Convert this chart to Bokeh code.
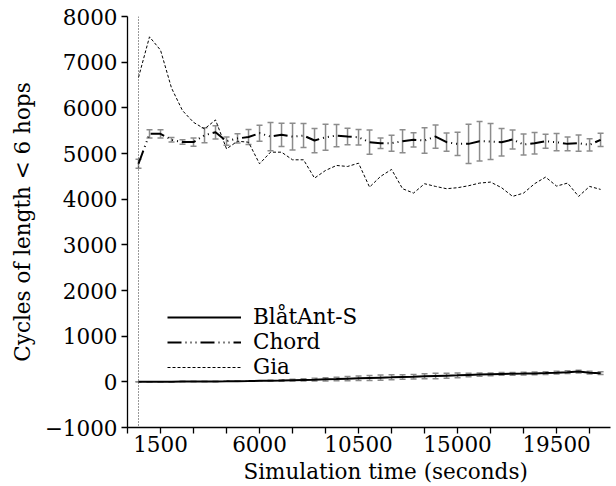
from bokeh.plotting import figure
from bokeh.models import (ColumnDataSource, Whisker, TeeHead, Span, FixedTicker,
                          Legend, LegendItem, Title)
from bokeh.embed import file_html
from bokeh.resources import INLINE

# ---- data -------------------------------------------------------------
time_s = [500, 1000, 1500, 2000, 2500, 3000, 3500, 4000, 4500, 5000, 5500,
          6000, 6500, 7000, 7500, 8000, 8500, 9000, 9500, 10000, 10500,
          11000, 11500, 12000, 12500, 13000, 13500, 14000, 14500, 15000,
          15500, 16000, 16500, 17000, 17500, 18000, 18500, 19000, 19500,
          20000, 20500, 21000, 21500]

blatant = [0, 0, 2, 3, 5, 6, 8, 10, 12, 15, 18, 22, 26, 30, 36, 42, 48, 55,
           62, 70, 78, 86, 92, 98, 105, 112, 120, 128, 135, 142, 150, 158,
           165, 172, 176, 180, 185, 192, 200, 212, 225, 200, 190]
blatant_err = [0, 0, 0, 0, 0, 0, 0, 0, 0, 0, 0, 0, 10, 15, 20, 25, 30, 35,
               40, 45, 50, 55, 55, 55, 50, 50, 55, 60, 55, 50, 40, 35, 30,
               30, 30, 30, 30, 30, 30, 30, 30, 30, 30]

chord = [4775, 5430, 5430, 5300, 5250, 5250, 5400, 5465, 5270, 5330, 5360,
         5445, 5370, 5410, 5370, 5393, 5284, 5356, 5393, 5371, 5356, 5247,
         5225, 5225, 5270, 5300, 5284, 5371, 5247, 5211, 5211, 5270, 5262,
         5247, 5306, 5197, 5225, 5270, 5247, 5211, 5225, 5190, 5300]
chord_err = [100, 90, 90, 50, 50, 90, 165, 145, 90, 100, 165, 175, 310, 255,
             295, 262, 266, 287, 244, 182, 171, 266, 113, 175, 251, 156, 280,
             255, 200, 255, 429, 433, 393, 302, 207, 229, 237, 153, 189, 153,
             178, 135, 146]

gia = [6666, 7555, 7264, 6434, 5939, 5683, 5539, 5735, 5102, 5269, 5247,
       4775, 5029, 5029, 4862, 4862, 4461, 4629, 4738, 4716, 4788, 4264,
       4498, 4651, 4229, 4133, 4338, 4279, 4229, 4251, 4294, 4352, 4374,
       4251, 4061, 4133, 4338, 4483, 4286, 4352, 4061, 4279, 4214]

x_ticks = [0, 1500, 3000, 4500, 6000, 7500, 9000, 10500, 12000, 13500,
           15000, 16500, 18000, 19500, 21000]
x_labeled = [1500, 6000, 10500, 15000, 19500]
y_ticks = [-1000, 0, 1000, 2000, 3000, 4000, 5000, 6000, 7000, 8000]

series_names = ["BlåtAnt-S", "Chord", "Gia"]
x_title = "Simulation time (seconds)"
y_title = "Cycles of length < 6 hops"

# ---- figure -----------------------------------------------------------
FONT = "DejaVu Serif"
FS = "21.5px"

p = figure(width=616, height=486, output_backend="svg", toolbar_location=None,
           x_range=(0, 21950), y_range=(-1000, 8000),
           min_border_left=127, min_border_right=6, min_border_top=16,
           min_border_bottom=10)
p.outline_line_color = None
p.grid.visible = False
p.background_fill_color = "white"
p.border_fill_color = "white"

src = ColumnDataSource(dict(
    t=time_s,
    b=blatant, b_lo=[v - e for v, e in zip(blatant, blatant_err)],
    b_hi=[v + e for v, e in zip(blatant, blatant_err)],
    c=chord, c_lo=[v - e for v, e in zip(chord, chord_err)],
    c_hi=[v + e for v, e in zip(chord, chord_err)],
    g=gia))

ERR_COLOR = "#8c8c8c"

# vertical dotted marker at start
p.add_layout(Span(location=time_s[0], dimension="height", line_color="#333333",
                  line_width=1, line_dash="1 2"))

# error bars
for lo, hi in (("c_lo", "c_hi"), ("b_lo", "b_hi")):
    w = Whisker(source=src, base="t", lower=lo, upper=hi, dimension="height",
                line_color=ERR_COLOR, line_width=1.5,
                upper_head=TeeHead(size=6, line_color=ERR_COLOR, line_width=1.5),
                lower_head=TeeHead(size=6, line_color=ERR_COLOR, line_width=1.5))
    p.add_layout(w)

r_b = p.line("t", "b", source=src, line_color="black", line_width=2)
r_c = p.line("t", "c", source=src, line_color="black", line_width=2,
             line_dash="14 4 1 4 1 4 1 4")
r_g = p.line("t", "g", source=src, line_color="black", line_width=1,
             line_dash="3 2")

legend = Legend(items=[LegendItem(label=series_names[0], renderers=[r_b]),
                       LegendItem(label=series_names[1], renderers=[r_c]),
                       LegendItem(label=series_names[2], renderers=[r_g])],
                location=(40, 48), orientation="vertical",
                glyph_width=74, glyph_height=22, label_height=22,
                label_standoff=12, spacing=0, padding=0, margin=0,
                border_line_color=None, background_fill_alpha=0,
                label_text_font=FONT, label_text_font_size=FS,
                label_text_color="black")
p.add_layout(legend, "center")

# axes
p.xaxis.ticker = FixedTicker(ticks=x_ticks)
p.xaxis.major_label_overrides = {t: (str(t) if t in x_labeled else "")
                                 for t in x_ticks}
p.yaxis.ticker = FixedTicker(ticks=y_ticks)
p.yaxis.major_label_overrides = {-1000: "\u22121000"}

for ax in (p.xaxis[0], p.yaxis[0]):
    ax.axis_line_color = "black"
    ax.axis_line_width = 1.3
    ax.major_tick_line_color = "black"
    ax.major_tick_line_width = 1.3
    ax.major_tick_out = 6
    ax.major_tick_in = 0
    ax.minor_tick_line_color = None
    ax.major_label_text_font = FONT
    ax.major_label_text_font_size = FS
    ax.major_label_text_color = "black"
    ax.axis_label_text_font = FONT
    ax.axis_label_text_font_size = FS
    ax.axis_label_text_font_style = "normal"
    ax.axis_label_text_color = "black"

p.yaxis.axis_label = y_title
p.xaxis.major_label_standoff = 2
p.yaxis.major_label_standoff = 4
p.yaxis.axis_label_standoff = 7

p.add_layout(Title(text=x_title, align="left", offset=116, standoff=5,
                   text_font=FONT, text_font_size=FS, text_font_style="normal",
                   text_color="black"), "below")

open("out.html", "w").write(file_html(p, INLINE))
